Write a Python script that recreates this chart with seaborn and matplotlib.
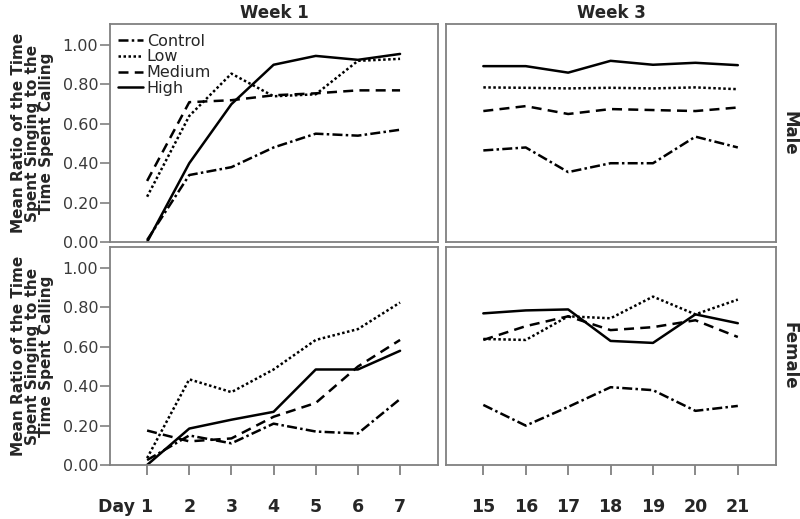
import numpy as np
import pandas as pd
import matplotlib
matplotlib.use("Agg")
import matplotlib.pyplot as plt
import matplotlib.transforms as mtransforms
import seaborn as sns

# ── Data ──────────────────────────────────────────────────────────────────────

groups = ["Control", "Low", "Medium", "High"]
days_w1 = [1, 2, 3, 4, 5, 6, 7]
days_w3 = [15, 16, 17, 18, 19, 20, 21]
tick_labels_w1 = ["Day 1", "2", "3", "4", "5", "6", "7"]
tick_labels_w3 = ["15", "16", "17", "18", "19", "20", "21"]

male_w1_control = [0.01, 0.34, 0.38, 0.48, 0.55, 0.54, 0.57]
male_w1_low     = [0.23, 0.64, 0.855, 0.74, 0.75, 0.92, 0.93]
male_w1_medium  = [0.31, 0.71, 0.72, 0.745, 0.755, 0.77, 0.77]
male_w1_high    = [0.0, 0.40, 0.70, 0.90, 0.945, 0.925, 0.955]

male_w3_control = [0.465, 0.48, 0.355, 0.40, 0.40, 0.535, 0.48]
male_w3_low     = [0.785, 0.783, 0.78, 0.783, 0.78, 0.785, 0.776]
male_w3_medium  = [0.665, 0.69, 0.65, 0.675, 0.67, 0.665, 0.683]
male_w3_high    = [0.893, 0.893, 0.86, 0.92, 0.90, 0.91, 0.898]

female_w1_control = [0.025, 0.15, 0.11, 0.21, 0.17, 0.16, 0.335]
female_w1_low     = [0.035, 0.435, 0.37, 0.485, 0.635, 0.69, 0.825]
female_w1_medium  = [0.175, 0.12, 0.135, 0.245, 0.315, 0.50, 0.635]
female_w1_high    = [0.0, 0.185, 0.23, 0.27, 0.485, 0.485, 0.58]

female_w3_control = [0.305, 0.20, 0.295, 0.395, 0.38, 0.275, 0.30]
female_w3_low     = [0.64, 0.635, 0.755, 0.745, 0.855, 0.765, 0.84]
female_w3_medium  = [0.635, 0.705, 0.755, 0.685, 0.70, 0.735, 0.65]
female_w3_high    = [0.77, 0.785, 0.79, 0.63, 0.62, 0.765, 0.72]

panels = {
    ("Male", "Week 1"): (days_w1, [male_w1_control, male_w1_low, male_w1_medium, male_w1_high]),
    ("Male", "Week 3"): (days_w3, [male_w3_control, male_w3_low, male_w3_medium, male_w3_high]),
    ("Female", "Week 1"): (days_w1, [female_w1_control, female_w1_low, female_w1_medium, female_w1_high]),
    ("Female", "Week 3"): (days_w3, [female_w3_control, female_w3_low, female_w3_medium, female_w3_high]),
}

rows = []
for (sex, week), (days, series) in panels.items():
    for grp, vals in zip(groups, series):
        for d, v in zip(days, vals):
            rows.append({"sex": sex, "week": week, "day": d, "group": grp, "ratio": v})
df = pd.DataFrame(rows)

# ── Styling ───────────────────────────────────────────────────────────────────

sns.set_style("white")
plt.rcParams["font.family"] = ["DejaVu Sans"]

dash_map = {
    "Control": (4, 1.3, 1, 1.3),
    "Low": (1, 1),
    "Medium": (4, 2.5),
    "High": "",
}
frame_col = "#808080"
ylabel = "Mean Ratio of the Time\nSpent Singing to the\nTime Spent Calling"

fig = plt.figure(figsize=(8, 5.19), dpi=100)
W, H = 800, 519


def px_axes(x0, y0, x1, y1):
    return fig.add_axes([x0 / W, 1 - y1 / H, (x1 - x0) / W, (y1 - y0) / H])


layout = {
    ("Male", "Week 1"): (110, 24, 438, 242),
    ("Male", "Week 3"): (446, 24, 776, 242),
    ("Female", "Week 1"): (110, 247, 438, 465),
    ("Female", "Week 3"): (446, 247, 776, 465),
}

for (sex, week), box in layout.items():
    ax = px_axes(*box)
    sub = df[(df["sex"] == sex) & (df["week"] == week)]
    sns.lineplot(
        data=sub, x="day", y="ratio", style="group", style_order=groups,
        dashes=dash_map, color="black", linewidth=1.8, ax=ax,
        legend=(sex == "Male" and week == "Week 1"),
    )
    days = days_w1 if week == "Week 1" else days_w3
    ax.set_xlim(days[0] - 0.88, days[-1] + 0.9)
    ax.set_ylim(0, 1.107)
    for s in ax.spines.values():
        s.set_color(frame_col)
        s.set_linewidth(1.3)
    ax.set_xlabel("")
    ax.set_ylabel("")

    if week == "Week 1":
        ax.set_yticks([0, 0.2, 0.4, 0.6, 0.8, 1.0])
        ax.set_yticklabels(["0.00", "0.20", "0.40", "0.60", "0.80", "1.00"])
        ax.tick_params(axis="y", left=True, length=7.5, width=1.2, color=frame_col,
                       labelsize=11.5, labelcolor="#3a3a3a", pad=1)
        ax.set_ylabel(ylabel, fontsize=11, fontweight="bold", linespacing=0.92,
                      labelpad=6)
    else:
        ax.set_yticks([])
    if sex == "Male":
        ax.set_title(week, fontsize=12, fontweight="bold", pad=4)

    if sex == "Female":
        ax.set_xticks(days)
        ax.set_xticklabels(tick_labels_w1 if week == "Week 1" else tick_labels_w3)
        ax.tick_params(axis="x", bottom=True, length=7.5, width=1.3, color=frame_col,
                       labelsize=12.5, pad=16)
        for lab in ax.get_xticklabels():
            lab.set_fontweight("bold")
        if week == "Week 1":
            first = ax.get_xticklabels()[0]
            first.set_horizontalalignment("right")
            first.set_transform(first.get_transform() +
                                mtransforms.ScaledTranslation(6 / 100, 0, fig.dpi_scale_trans))
    else:
        ax.set_xticks([])

    if week == "Week 3":
        ax.text(1.04, 0.5, sex, transform=ax.transAxes, rotation=270,
                ha="center", va="center", fontsize=12, fontweight="bold")

    leg = ax.get_legend()
    if leg is not None:
        leg.remove()
        handles, labels = ax.get_legend_handles_labels()
        ax.legend(handles, labels, loc="upper left", bbox_to_anchor=(-0.005, 1.0),
                  frameon=False, fontsize=11.5, handlelength=1.6, handletextpad=0.2,
                  labelspacing=0.05, borderaxespad=0.2)

fig.savefig("out.png", dpi=100)
